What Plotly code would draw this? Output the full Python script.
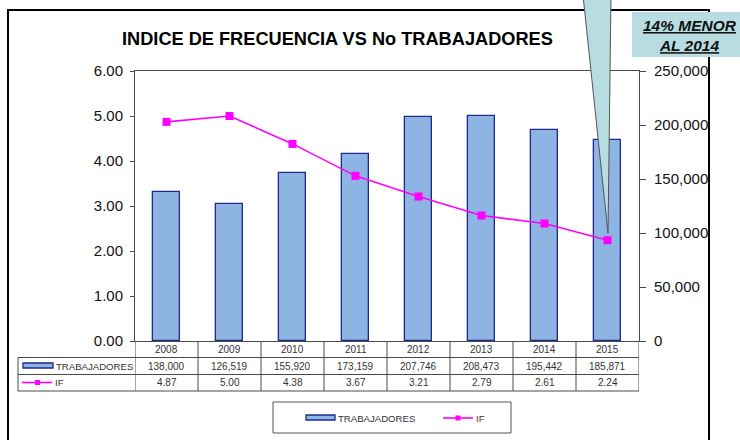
import plotly.graph_objects as go

# ---------------- data ----------------
years = [2008, 2009, 2010, 2011, 2012, 2013, 2014, 2015]
trabajadores = [138000, 126519, 155920, 173159, 207746, 208473, 195442, 185871]
indice_frecuencia = [4.87, 5.00, 4.38, 3.67, 3.21, 2.79, 2.61, 2.24]
title_text = "INDICE DE FRECUENCIA VS No TRABAJADORES"
callout_text = ["14% MENOR", "AL 2014"]
series_names = ["TRABAJADORES", "IF"]

# ---------------- layout helpers ----------------
OFF = 0  # page body margin removed by post_script below
W, H = 740, 440
L, R, T, B = 135, 639, 71, 341  # target plot-area pixel box in the screenshot


def px(x):
    return (x - L) / (R - L)


def py(y):
    return (B - y) / (B - T)


BAR_FILL = "#8db4e2"
BAR_LINE = "#1f2a8a"
MAG = "#ff00ff"
GRID = "#4a4a4a"
FONT = "Liberation Sans, Arial, sans-serif"

fig = go.Figure()
# bars on the base (right-side) axis, line on the overlaying (left-side) axis so it draws on top
fig.add_trace(go.Bar(
    x=years, y=trabajadores, yaxis="y", width=0.43,
    marker=dict(color=BAR_FILL, line=dict(color=BAR_LINE, width=1.3)),
    name=series_names[0], showlegend=False,
))
fig.add_trace(go.Scatter(
    x=years, y=indice_frecuencia, yaxis="y2", mode="lines+markers",
    line=dict(color=MAG, width=1.6),
    marker=dict(symbol="square", size=8, color=MAG),
    name=series_names[1], showlegend=False,
))

shapes = []
annotations = []


def note(x, y, text, font, xref="paper", xanchor="center", **kw):
    annotations.append(dict(x=x, y=y, xref=xref, yref="paper", text=text, showarrow=False,
                            xanchor=xanchor, yanchor="middle", font=font, **kw))


# outer frame
shapes.append(dict(type="rect", xref="paper", yref="paper",
                   x0=px(8), x1=px(709), y0=py(470), y1=py(10),
                   line=dict(color="black", width=2), fillcolor="rgba(0,0,0,0)"))

# data table grid
row_y = [341, 357.5, 374.5, 391]
for y in row_y[1:]:
    shapes.append(dict(type="line", xref="paper", yref="paper",
                       x0=px(18), x1=px(639), y0=py(y), y1=py(y),
                       line=dict(color=GRID, width=1)))
shapes.append(dict(type="line", xref="paper", yref="paper",
                   x0=px(18), x1=px(18), y0=py(357.5), y1=py(391),
                   line=dict(color=GRID, width=1)))
for i in range(len(years) + 1):
    xv = years[0] - 0.5 + i
    shapes.append(dict(type="line", xref="x", yref="paper",
                       x0=xv, x1=xv, y0=py(341), y1=py(391),
                       line=dict(color=GRID, width=1)))

tfont = dict(family=FONT, size=10, color="#333333")
for yr, tv, fv in zip(years, trabajadores, indice_frecuencia):
    note(yr, py(349.5), str(yr), tfont, xref="x")
    note(yr, py(366), f"{tv:,}", tfont, xref="x")
    note(yr, py(383), f"{fv:.2f}", tfont, xref="x")

# table row labels with series keys
lfont = dict(family=FONT, size=9.6, color="#333333")
shapes.append(dict(type="rect", xref="paper", yref="paper",
                   x0=px(23), x1=px(53), y0=py(368), y1=py(363),
                   fillcolor=BAR_FILL, line=dict(color=BAR_LINE, width=1.3)))
note(px(54), py(366), series_names[0], lfont, xanchor="left")
shapes.append(dict(type="line", xref="paper", yref="paper",
                   x0=px(22), x1=px(52), y0=py(382.5), y1=py(382.5),
                   line=dict(color=MAG, width=1.6)))
shapes.append(dict(type="rect", xref="paper", yref="paper",
                   x0=px(35), x1=px(40), y0=py(385), y1=py(380),
                   fillcolor=MAG, line=dict(color=MAG, width=0)))
note(px(53), py(383), series_names[1], lfont, xanchor="left")

# legend box
shapes.append(dict(type="rect", xref="paper", yref="paper",
                   x0=px(273), x1=px(511), y0=py(433), y1=py(402),
                   line=dict(color="#555555", width=1), fillcolor="white"))
shapes.append(dict(type="rect", xref="paper", yref="paper",
                   x0=px(306), x1=px(335), y0=py(420), y1=py(415),
                   fillcolor=BAR_FILL, line=dict(color=BAR_LINE, width=1.3)))
note(px(336), py(418), series_names[0], lfont, xanchor="left")
shapes.append(dict(type="line", xref="paper", yref="paper",
                   x0=px(443), x1=px(473), y0=py(418), y1=py(418),
                   line=dict(color=MAG, width=1.6)))
shapes.append(dict(type="rect", xref="paper", yref="paper",
                   x0=px(455.5), x1=px(460.5), y0=py(420.5), y1=py(415.5),
                   fillcolor=MAG, line=dict(color=MAG, width=0)))
note(px(474), py(418), series_names[1], lfont, xanchor="left")

# callout wedge
shapes.append(dict(type="path", xref="paper", yref="paper",
                   path=f"M {px(583)} {py(-5)} L {px(611)} {py(-5)} L {px(608)} {py(233)} Z",
                   fillcolor="#b7dde3", line=dict(color="#555555", width=1)))
# callout box
shapes.append(dict(type="rect", xref="paper", yref="paper",
                   x0=px(632), x1=px(760), y0=py(57), y1=py(12),
                   fillcolor="#b7dde3", line=dict(width=0)))
note(px(690), py(35), "<br>".join(f"<b><i><u>{t}</u></i></b>" for t in callout_text),
     dict(family=FONT, size=15.5, color="#111111"), align="center")

# title
note(px(337.5), py(39), f"<b>{title_text}</b>", dict(family=FONT, size=18.2, color="black"))

axis_font = dict(family=FONT, size=15, color="#111111")
fig.update_layout(
    width=W, height=H,
    margin=dict(l=L - OFF, r=W - (R - OFF), t=T - OFF, b=H - (B - OFF), autoexpand=False),
    paper_bgcolor="white", plot_bgcolor="white",
    bargap=0, hovermode=False,
    xaxis=dict(range=[years[0] - 0.5, years[-1] + 0.5], showticklabels=False, ticks="",
               showgrid=False, zeroline=False, showline=True, linecolor=GRID, mirror=True),
    yaxis=dict(range=[0, 250000], dtick=50000, tickformat=",", side="right",
               showgrid=False, zeroline=False, showline=True, linecolor=GRID,
               ticks="outside", ticklen=6, tickcolor=GRID, tickfont=axis_font,
               ticklabelstandoff=5),
    yaxis2=dict(range=[0, 6], dtick=1, tickformat=".2f", overlaying="y", side="left",
                showgrid=False, zeroline=False, showline=True, linecolor=GRID,
                ticks="outside", ticklen=4, tickcolor=GRID, tickfont=axis_font,
                ticklabelstandoff=4),
    shapes=shapes, annotations=annotations,
)

fig.write_html(
    "out.html",
    config={"displayModeBar": False},
    post_script="document.body.style.margin='0';document.body.style.overflow='hidden';",
)
